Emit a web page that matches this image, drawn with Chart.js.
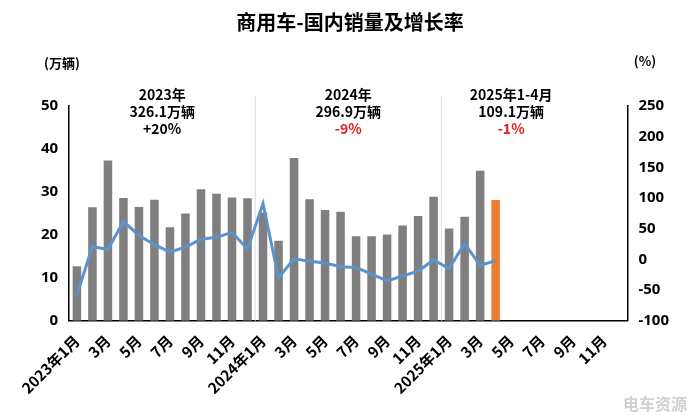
<!DOCTYPE html>
<html><head><meta charset="utf-8">
<script src="https://cdn.jsdelivr.net/npm/chart.js@4/dist/chart.umd.min.js"></script>
<style>body{margin:0;background:#fff}#wrap{width:700px;height:420px}</style>
</head><body><div id="wrap"><canvas id="c"></canvas></div>
<script>
const months = [];
for (const y of [2023, 2024, 2025]) for (let m = 1; m <= 12; m++) months.push(m === 1 ? `${y}年1月` : `${m}月`);

const sales = [12.7, 26.4, 37.3, 28.6, 26.5, 28.2, 21.8, 25, 30.6, 29.6, 28.7, 28.5,
  25.2, 18.6, 37.9, 28.3, 25.8, 25.4, 19.7, 19.7, 20.1, 22.2, 24.4, 28.9,
  21.5, 24.2, 34.9, 28.1];
const growth = [-58, 21, 16, 62, 39, 24, 12, 20, 33, 36, 44, 17,
  91, -30, 1, -3, -6, -12, -13, -24, -35, -27, -19, -1,
  -15, 26, -10, -2];
const barColors = sales.map((v, i) => i === sales.length - 1 ? '#ed7d31' : '#7f7f7f');

const notes = [
  { at: 5.5, lines: ['2023年', '326.1万辆', '+20%'], last: '#000' },
  { at: 17.5, lines: ['2024年', '296.9万辆', '-9%'], last: '#e02020' },
  { at: 28, lines: ['2025年1-4月', '109.1万辆', '-1%'], last: '#e02020' }
];
const dividers = [11.5, 23.5];

const extras = {
  id: 'extras',
  beforeDatasetsDraw(chart) {
    const { ctx, chartArea, scales: { x } } = chart;
    ctx.save();
    ctx.strokeStyle = '#d8dde6';
    ctx.lineWidth = 1;
    dividers.forEach(d => {
      const px = x.getPixelForValue(d);
      ctx.beginPath(); ctx.moveTo(px, chartArea.top - 10); ctx.lineTo(px, chartArea.bottom); ctx.stroke();
    });
    ctx.restore();
  },
  afterDraw(chart) {
    const { ctx, chartArea, scales: { x } } = chart;
    ctx.save();
    ctx.textAlign = 'center';
    ctx.fillStyle = '#000';
    ctx.font = 'bold 20px "Noto Sans CJK SC"';
    ctx.fillText('商用车-国内销量及增长率', 350, 30);
    ctx.font = 'bold 13px "Noto Sans CJK SC"';
    ctx.fillText('(万辆)', 62, 68);
    ctx.fillText('(%)', 645, 66);
    ctx.font = 'bold 14px "Noto Sans CJK SC"';
    notes.forEach(n => {
      const px = x.getPixelForValue(n.at);
      n.lines.forEach((t, i) => {
        ctx.fillStyle = i === 2 ? n.last : '#000';
        ctx.fillText(t, px, chartArea.top - 6 + i * 17);
      });
    });
    ctx.fillStyle = '#d0d0d0';
    ctx.font = 'bold 16px "Noto Sans CJK SC"';
    ctx.fillText('电车资源', 655, 410);
    ctx.restore();
  }
};

new Chart(document.getElementById('c'), {
  data: {
    labels: months,
    datasets: [
      { type: 'line', data: growth, yAxisID: 'y1', borderColor: '#5b93cc', borderWidth: 3,
        pointRadius: 0, tension: 0, order: 0 },
      { type: 'bar', data: sales, yAxisID: 'y', backgroundColor: barColors,
        barPercentage: 0.55, categoryPercentage: 1, order: 1 }
    ]
  },
  options: {
    responsive: true, maintainAspectRatio: false, animation: false,
    layout: { padding: { top: 106, left: 38, right: 28, bottom: 20 } },
    plugins: { legend: { display: false }, tooltip: { enabled: false } },
    scales: {
      x: {
        grid: { display: false }, border: { color: '#000', width: 1.5 },
        ticks: { autoSkip: false, maxRotation: 45, minRotation: 45, color: '#000',
          font: { family: 'Noto Sans CJK SC', size: 15, weight: 'bold' },
          callback: (v, i) => i % 2 === 0 ? months[i] : '' }
      },
      y: {
        min: 0, max: 50, position: 'left',
        grid: { display: false }, border: { color: '#000', width: 1.5 },
        ticks: { stepSize: 10, color: '#000', font: { family: 'Noto Sans', size: 15, weight: 'bold' } }
      },
      y1: {
        min: -100, max: 250, position: 'right',
        grid: { display: false }, border: { color: '#000', width: 1.5 },
        ticks: { stepSize: 50, color: '#000', font: { family: 'Noto Sans', size: 15, weight: 'bold' } }
      }
    }
  },
  plugins: [extras]
});
</script></body></html>
